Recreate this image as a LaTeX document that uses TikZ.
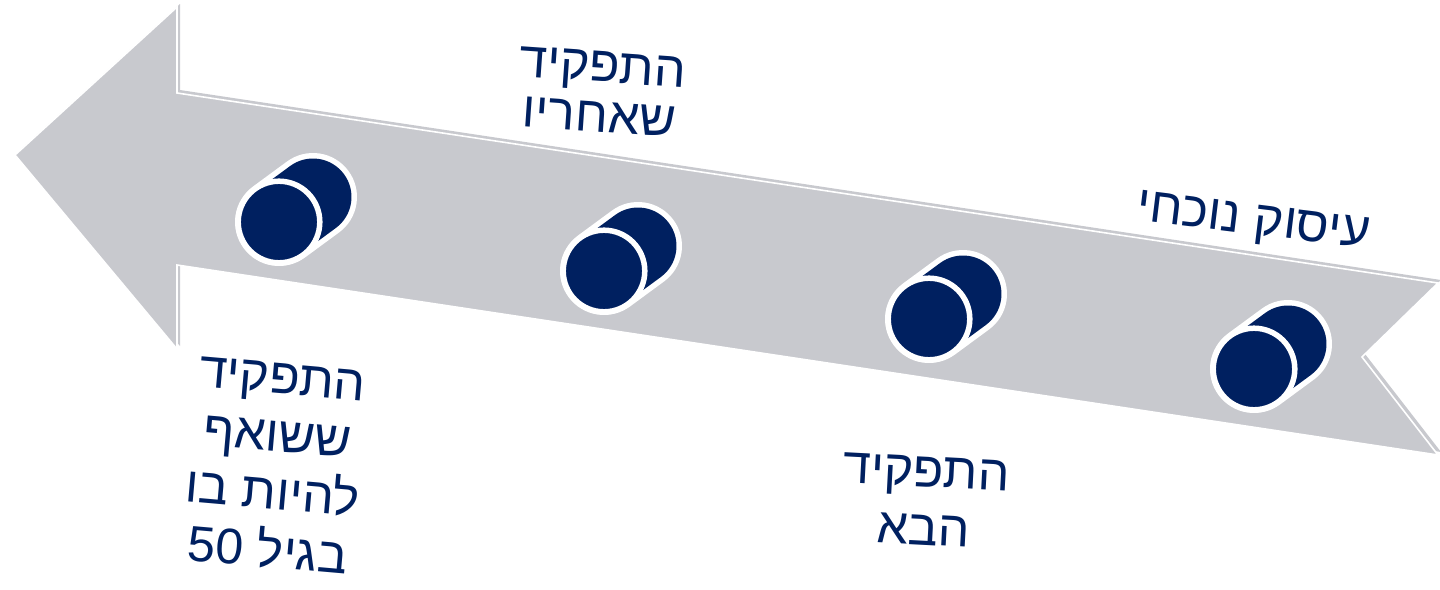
\documentclass[tikz,border=0pt]{standalone}
\usepackage{fontspec}
\newfontfamily\hebfont[Script=Hebrew]{Liberation Sans}
\TeXXeTstate=1
\definecolor{navy}{RGB}{0,32,96}
\definecolor{arrowgray}{RGB}{200,201,206}
\newcommand{\heb}[1]{\beginR #1\endR}
\begin{document}
\begin{tikzpicture}[x=1pt,y=-1pt,
  lbl/.style={text=navy, font=\hebfont\fontsize{50}{58}\selectfont, align=center, inner sep=0pt},
  cylout/.style={white, line width=88pt, line cap=round},
  cylin/.style={navy, line width=77pt, line cap=round},
  cylring/.style={draw=white, fill=navy, line width=5.5pt}]
\useasboundingbox (0,0) rectangle (1440,589);
% arrow
\begin{scope}[xshift=3pt,yshift=3pt]
\fill[arrowgray] (15,155) -- (177,7) -- (177,93) -- (1438,283) -- (1362,357) -- (1438,455) -- (177,265) -- (177,349) -- cycle;
\end{scope}
\filldraw[fill=arrowgray, draw=white, line width=1.6pt] (15,155) -- (177,7) -- (177,93) -- (1438,283) -- (1362,357) -- (1438,455) -- (177,265) -- (177,349) -- cycle;
% cylinders
\coordinate (f1) at (279,222); \coordinate (b1) at (313,197);
\coordinate (f2) at (604,271); \coordinate (b2) at (638,246);
\coordinate (f3) at (929,319); \coordinate (b3) at (963,294);
\coordinate (f4) at (1254,369); \coordinate (b4) at (1288,344);
\foreach \i in {1,2,3,4}{
  \draw[cylout] (f\i) -- (b\i);
  \draw[cylin] (f\i) -- (b\i);
  \draw[cylring] (f\i) circle[radius=40.8];
}
% labels
\node[lbl, rotate=-4, font=\hebfont\fontsize{50}{50}\selectfont] (t1) at (601,92) {\heb{התפקיד}\\\heb{שאחריו}};
\node[lbl, rotate=-7] (t2) at (1253,224) {\heb{עיסוק נוכחי}};
\node[lbl, rotate=-5] (t3) at (275,466) {\heb{התפקיד}\\\heb{ששואף}\\\heb{להיות בו}\\\heb{בגיל \beginL 50\endL}};
\node[lbl, rotate=-3] (t4) at (925,501) {\heb{התפקיד}\\\heb{הבא}};
\end{tikzpicture}
\end{document}
